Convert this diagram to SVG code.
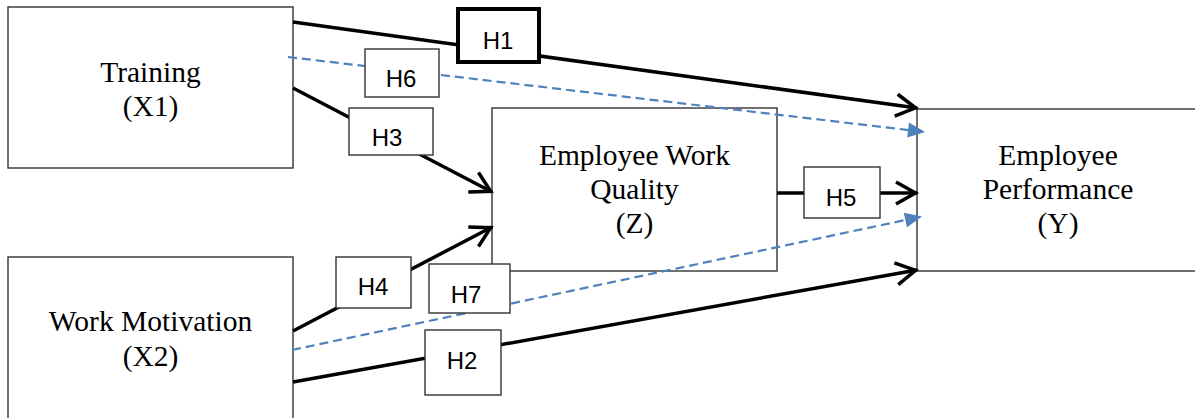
<svg xmlns="http://www.w3.org/2000/svg" width="1195" height="418" viewBox="0 0 1195 418">
<style>
.node{fill:#fff;stroke:#333;stroke-width:1.4}
.nt{font-family:"Liberation Serif","Times New Roman",serif;font-size:29.5px;fill:#000;text-anchor:middle}
.solid{stroke:#000;stroke-width:3.5;fill:none;marker-end:url(#ah)}
.dash{stroke:#4F81BD;stroke-width:2.2;fill:none;stroke-dasharray:9 5;marker-end:url(#bh)}
.lb{fill:#fff;stroke:#333;stroke-width:1.4}
.lt{font-family:"Liberation Sans",Arial,sans-serif;font-size:24px;fill:#000;text-anchor:middle}
</style>
<defs>
<marker id="ah" markerUnits="userSpaceOnUse" viewBox="-26 -15 30 30" markerWidth="30" markerHeight="30" refX="0" refY="0" orient="auto">
<path d="M-21,-11 L-1.5,0 L-21,11" fill="none" stroke="#000" stroke-width="3.5"/>
</marker>
<marker id="bh" markerUnits="userSpaceOnUse" viewBox="-20 -10 22 20" markerWidth="22" markerHeight="20" refX="0" refY="0" orient="auto">
<path d="M-17,-7.5 L0,0 L-17,7.5 Z" fill="#4F81BD"/>
</marker>
</defs>
<g id="training">
<rect class="node" x="8" y="7" width="285" height="161"/>
<text class="nt" x="150.5" y="82">Training</text>
<text class="nt" x="150.5" y="116">(X1)</text>
</g>
<g id="motivation">
<rect class="node" x="8" y="257" width="285" height="175"/>
<text class="nt" x="150.5" y="331">Work Motivation</text>
<text class="nt" x="150.5" y="366">(X2)</text>
</g>
<g id="quality">
<rect class="node" x="492" y="108" width="285" height="163"/>
<text class="nt" x="634.5" y="165">Employee Work</text>
<text class="nt" x="634.5" y="199">Quality</text>
<text class="nt" x="634.5" y="233">(Z)</text>
</g>
<g id="performance">
<rect class="node" x="917" y="109" width="284" height="162"/>
<text class="nt" x="1058" y="165">Employee</text>
<text class="nt" x="1058" y="199">Performance</text>
<text class="nt" x="1058" y="233">(Y)</text>
</g>
<g id="connectors">
<line class="solid" x1="293" y1="22" x2="917" y2="108"/>
<line class="dash" x1="288" y1="57" x2="925" y2="132"/>
<line class="solid" x1="293" y1="88" x2="492" y2="192"/>
<line class="solid" x1="293" y1="331" x2="492" y2="227"/>
<line class="dash" x1="292" y1="350" x2="922" y2="216.5"/>
<line class="solid" x1="293" y1="382" x2="917" y2="270"/>
<line class="solid" x1="777" y1="193" x2="917" y2="193"/>
</g>
<g id="labels">
<g id="h1"><rect x="458" y="9" width="81" height="53" fill="#fff" stroke="#000" stroke-width="4"/><text class="lt" x="498" y="49">H1</text></g>
<g id="h6"><rect class="lb" x="365" y="49" width="74" height="48"/><text class="lt" x="401" y="87">H6</text></g>
<g id="h3"><rect class="lb" x="349" y="108" width="84" height="47"/><text class="lt" x="387" y="146">H3</text></g>
<g id="h4"><rect class="lb" x="336" y="257" width="75" height="51"/><text class="lt" x="373" y="295">H4</text></g>
<g id="h7"><rect class="lb" x="429" y="264" width="81" height="49"/><text class="lt" x="466" y="303">H7</text></g>
<g id="h2"><rect class="lb" x="425" y="330" width="76" height="65"/><text class="lt" x="462" y="369">H2</text></g>
<g id="h5"><rect class="lb" x="804" y="167" width="76" height="51"/><text class="lt" x="841" y="206">H5</text></g>
</g>
</svg>
